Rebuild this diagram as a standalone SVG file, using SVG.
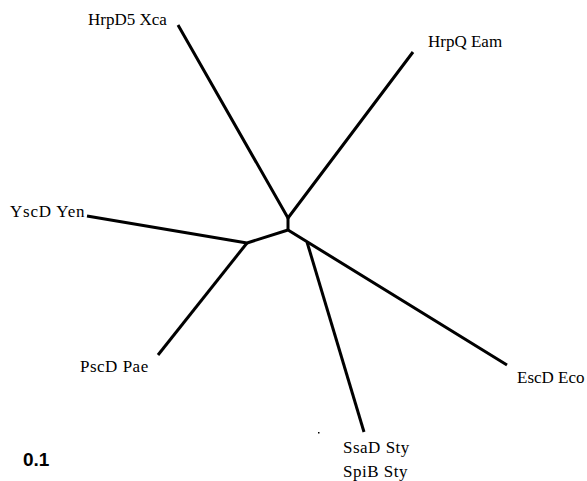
<svg xmlns="http://www.w3.org/2000/svg" width="587" height="481" viewBox="0 0 587 481">
<style>
.lbl{font-family:"Liberation Serif","Times New Roman",serif;font-size:17px;fill:#000}
.br{stroke:#000;stroke-width:3;fill:none;stroke-linecap:butt;stroke-linejoin:round}
.scale{font-family:"Liberation Sans",Arial,sans-serif;font-size:19px;font-weight:bold;fill:#000}
</style>
<rect width="587" height="481" fill="#fff"/>
<g id="connectors">
<polyline class="br" points="178,25 288,218 413,52"/>
<line class="br" x1="288" y1="218" x2="288" y2="230"/>
<polyline class="br" points="87,216 247,243 288,230 507,365"/>
<line class="br" x1="247" y1="243" x2="158" y2="355"/>
<line class="br" x1="307" y1="242" x2="364" y2="432"/>
</g>
<g id="hrpd5"><text class="lbl" x="88" y="25">HrpD5 Xca</text></g>
<g id="hrpq"><text class="lbl" x="428" y="47">HrpQ Eam</text></g>
<g id="yscd"><text class="lbl" x="10" y="217" letter-spacing="0.8">YscD Yen</text></g>
<g id="pscd"><text class="lbl" x="80" y="372" letter-spacing="0.5">PscD Pae</text></g>
<g id="escd"><text class="lbl" x="517" y="383">EscD Eco</text></g>
<g id="ssad"><text class="lbl" x="343" y="453" letter-spacing="0.5">SsaD Sty</text><text class="lbl" x="343" y="477" letter-spacing="0.5">SpiB Sty</text></g>
<rect x="318" y="432" width="1.5" height="1.5" fill="#000"/>
<g id="scale"><text class="scale" x="23" y="466">0.1</text></g>
</svg>
